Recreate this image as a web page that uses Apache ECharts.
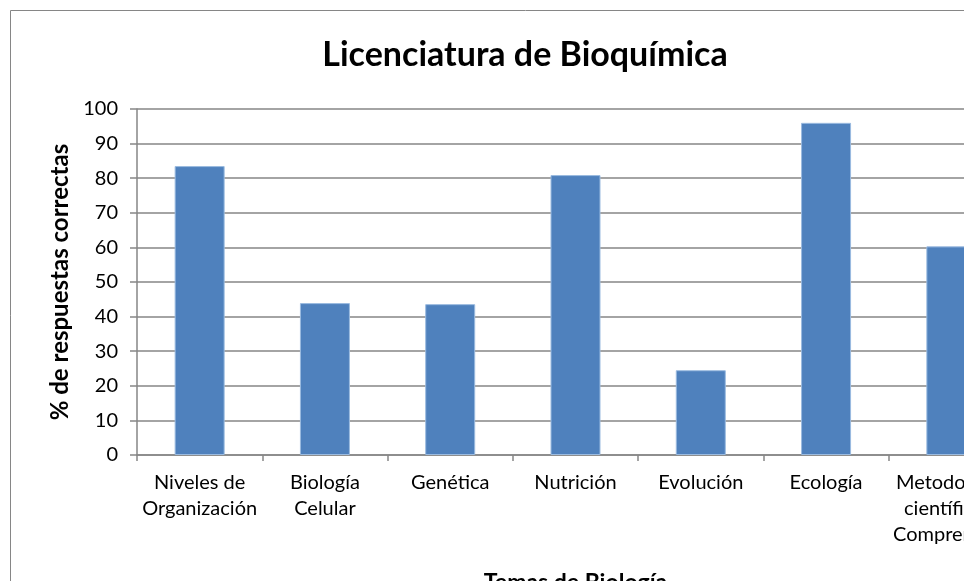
<!DOCTYPE html>
<html>
<head>
<meta charset="utf-8">
<script src="https://cdn.jsdelivr.net/npm/echarts@6/dist/echarts.min.js"></script>
<style>
  html, body { margin: 0; padding: 0; width: 964px; height: 581px; overflow: hidden; background: #fff; }
  #chart { position: absolute; left: 0; top: 0; width: 1050px; height: 620px; }
</style>
</head>
<body>
<div id="chart"></div>
<script>
// temas (categorias del eje x)
const temas = [
  "Niveles de\nOrganización",
  "Biología\nCelular",
  "Genética",
  "Nutrición",
  "Evolución",
  "Ecología",
  "Metodología\ncientífica y\nComprensión"
];
// % de respuestas correctas
const correctas = [83.5, 43.9, 43.6, 80.9, 24.5, 96.0, 60.3];
const yTicks = [0, 10, 20, 30, 40, 50, 60, 70, 80, 90, 100];

const fontFam = "Lato, 'DejaVu Sans', sans-serif";
const gris = "#868686";

const chart = echarts.init(document.getElementById("chart"));
chart.setOption({
  animation: false,
  textStyle: { fontFamily: fontFam },
  title: {
    text: "Licenciatura de Bioquímica",
    left: "center",
    top: 33,
    textStyle: { fontFamily: fontFam, fontSize: 34, fontWeight: "bold", color: "#000" }
  },
  graphic: [
    {
      type: "rect",
      shape: { x: 10.5, y: 10.5, width: 1030, height: 640 },
      style: { fill: "none", stroke: gris, lineWidth: 1 },
      silent: true
    }
  ],
  grid: { left: 137, top: 109, width: 877, height: 346 },
  xAxis: {
    type: "category",
    data: temas,
    name: "Temas de Biología",
    nameLocation: "middle",
    nameGap: 116,
    nameTextStyle: { fontFamily: fontFam, fontSize: 23, fontWeight: "bold", color: "#000" },
    axisLine: { lineStyle: { color: gris, width: 1.5 } },
    axisTick: { show: true, length: 6, lineStyle: { color: gris, width: 1.5 } },
    axisLabel: {
      interval: 0,
      color: "#000",
      fontSize: 20,
      lineHeight: 26,
      margin: 15
    }
  },
  yAxis: {
    type: "value",
    min: yTicks[0],
    max: yTicks[yTicks.length - 1],
    interval: 10,
    name: "% de respuestas correctas",
    nameLocation: "middle",
    nameGap: 58,
    nameTextStyle: { fontFamily: fontFam, fontSize: 24, fontWeight: "bold", color: "#000" },
    axisLine: { show: true, lineStyle: { color: gris, width: 1.5 } },
    axisTick: { show: true, length: 7, lineStyle: { color: gris, width: 1.5 } },
    axisLabel: { color: "#000", fontSize: 20, margin: 19 },
    splitLine: { show: true, lineStyle: { color: gris, width: 1.5 } }
  },
  series: [
    {
      type: "bar",
      data: correctas,
      barWidth: 50,
      itemStyle: { color: "#4F81BD", borderColor: "#9BBBE0", borderWidth: 1 }
    }
  ]
});
</script>
</body>
</html>
